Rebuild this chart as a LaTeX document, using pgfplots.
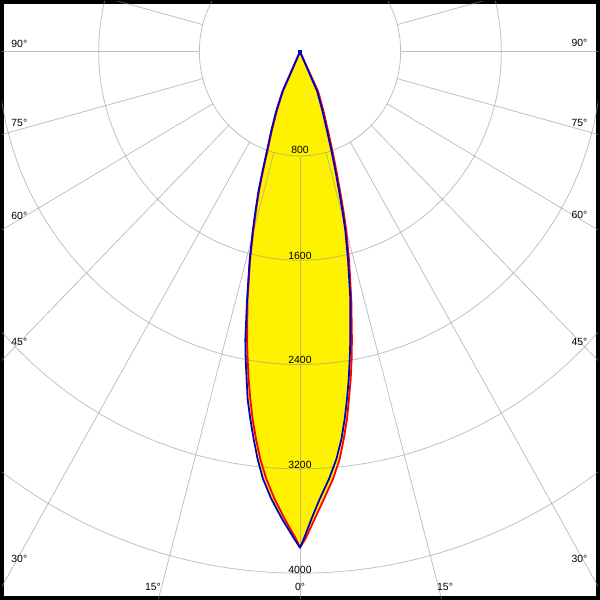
\documentclass[border=0pt]{standalone}
\usepackage{fontspec}
\setmainfont{Liberation Sans}
\usepackage{pgfplots}
\pgfplotsset{compat=1.18}
\usepackage{pgfplotstable}
\definecolor{curveblue}{RGB}{0,0,200}
\definecolor{curvered}{RGB}{255,0,0}
\definecolor{gridgray}{RGB}{150,150,150}
\newcommand\lbl{\fontsize{10.5bp}{12bp}\selectfont}
\tikzset{gridline/.style={draw=gridgray, line width=0.8bp, opacity=0.6}}

\pgfplotstableread{
a I
-27 0
-24.63 335
-22.52 495
-20.59 651
-19.04 806
-18.03 961
-17.16 1116
-16.18 1269
-15.29 1422
-14.05 1649
-12.46 1951
-11.12 2252
-10.36 2401
-9.57 2550
-8.87 2699
-7.97 2846
-7.07 2994
-6.16 3142
-5.14 3289
-3.82 3436
-2.31 3584
-0.73 3734
0 3804
0.49 3733
1.48 3582
2.64 3432
4.04 3284
5.30 3137
6.32 2990
7.18 2841
7.97 2693
8.75 2544
9.49 2395
10.27 2245
11.87 1947
13.43 1645
14.71 1418
15.46 1265
16.22 1111
17.13 957
18.19 802
19.47 646
21.41 491
24.14 334
27 0
}\blueData

\pgfplotstableread{
a I
-27 0
-24.02 334
-22.09 493
-20.26 650
-18.77 805
-17.81 960
-16.96 1115
-16.01 1268
-15.14 1421
-13.94 1649
-12.35 1950
-10.78 2249
-9.99 2398
-9.22 2547
-8.42 2696
-7.61 2844
-6.71 2992
-5.77 3140
-4.68 3287
-3.39 3435
-1.98 3583
-0.52 3733
0 3804
0.69 3734
1.89 3583
3.20 3434
4.59 3287
5.77 3140
6.67 2992
7.55 2844
8.30 2695
9.10 2546
9.86 2397
10.58 2248
12.09 1948
13.70 1647
15.02 1420
15.80 1267
16.61 1113
17.58 959
18.72 804
20.14 649
22.26 494
25.36 337
27 0
}\redData

\begin{document}
\begin{tikzpicture}
\begin{axis}[
  width=600bp, height=600bp, scale only axis,
  xmin=-2368.4, xmax=2368.4, ymin=-4190.5, ymax=381,
  xtick=\empty, ytick=\empty,
  axis line style={line width=4bp, black},
]
% yellow areas
\addplot[fill=yellow, draw=none] table[x expr={\thisrow{I}*sin(\thisrow{a})}, y expr={-\thisrow{I}*cos(\thisrow{a})}] {\redData};
\addplot[fill=yellow, draw=none] table[x expr={\thisrow{I}*sin(\thisrow{a})}, y expr={-\thisrow{I}*cos(\thisrow{a})}] {\blueData};
% grid
\pgfplotsinvokeforeach{800,1600,2400,3200,4000}{
  \draw[gridline] (axis cs:0,0) ellipse [x radius=#1, y radius=#1];
}
\pgfplotsinvokeforeach{0,15,...,345}{
  \draw[gridline] (axis cs:{800*sin(#1)},{-800*cos(#1)}) -- (axis cs:{7000*sin(#1)},{-7000*cos(#1)});
}
% curves
\addplot[curvered, line width=1.8bp, line join=round] table[x expr={\thisrow{I}*sin(\thisrow{a})}, y expr={-\thisrow{I}*cos(\thisrow{a})}] {\redData};
\addplot[curveblue, line width=1.8bp, line join=round, mark=square*, mark indices={1}, mark size=1.6bp, mark options={solid, fill=curveblue, draw=curveblue, line width=0pt}] table[x expr={\thisrow{I}*sin(\thisrow{a})}, y expr={-\thisrow{I}*cos(\thisrow{a})}] {\blueData};
% angle labels
\node[anchor=west, inner sep=0pt, font=\lbl] at (axis cs:-2295,61) {90°};
\node[anchor=west, inner sep=0pt, font=\lbl] at (axis cs:-2295,-545) {75°};
\node[anchor=west, inner sep=0pt, font=\lbl] at (axis cs:-2295,-1257) {60°};
\node[anchor=west, inner sep=0pt, font=\lbl] at (axis cs:-2295,-2225) {45°};
\node[anchor=west, inner sep=0pt, font=\lbl] at (axis cs:-2295,-3893) {30°};
\node[anchor=east, inner sep=0pt, font=\lbl] at (axis cs:2285,65) {90°};
\node[anchor=east, inner sep=0pt, font=\lbl] at (axis cs:2285,-545) {75°};
\node[anchor=east, inner sep=0pt, font=\lbl] at (axis cs:2285,-1250) {60°};
\node[anchor=east, inner sep=0pt, font=\lbl] at (axis cs:2285,-2225) {45°};
\node[anchor=east, inner sep=0pt, font=\lbl] at (axis cs:2285,-3890) {30°};
\node[inner sep=0pt, font=\lbl] at (axis cs:-1168,-4107) {15°};
\node[inner sep=0pt, font=\lbl] at (axis cs:0,-4107) {0°};
\node[inner sep=0pt, font=\lbl] at (axis cs:1153,-4107) {15°};
% intensity labels
\node[inner sep=0pt, font=\lbl] at (axis cs:0,-754) {800};
\node[inner sep=0pt, font=\lbl] at (axis cs:0,-1566) {1600};
\node[inner sep=0pt, font=\lbl] at (axis cs:0,-2362) {2400};
\node[inner sep=0pt, font=\lbl] at (axis cs:0,-3170) {3200};
\node[inner sep=0pt, font=\lbl] at (axis cs:0,-3977) {4000};
\end{axis}
\end{tikzpicture}
\end{document}
